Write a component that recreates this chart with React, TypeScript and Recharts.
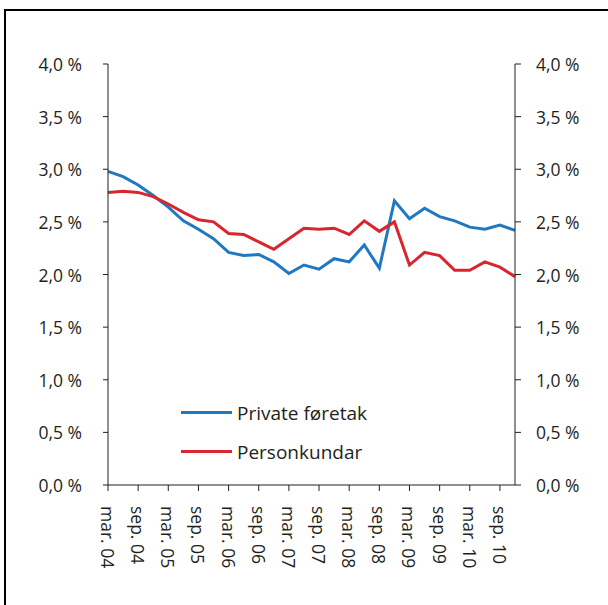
import { LineChart, Line, XAxis, YAxis } from 'recharts';

const quarters = [
  'mar. 04', 'jun. 04', 'sep. 04', 'des. 04',
  'mar. 05', 'jun. 05', 'sep. 05', 'des. 05',
  'mar. 06', 'jun. 06', 'sep. 06', 'des. 06',
  'mar. 07', 'jun. 07', 'sep. 07', 'des. 07',
  'mar. 08', 'jun. 08', 'sep. 08', 'des. 08',
  'mar. 09', 'jun. 09', 'sep. 09', 'des. 09',
  'mar. 10', 'jun. 10', 'sep. 10', 'des. 10',
];

const privateForetak = [
  2.98, 2.93, 2.85, 2.75, 2.64, 2.51, 2.43, 2.34, 2.21, 2.18, 2.19, 2.12, 2.01, 2.09,
  2.05, 2.15, 2.12, 2.28, 2.06, 2.7, 2.53, 2.63, 2.55, 2.51, 2.45, 2.43, 2.47, 2.42,
];

const personkundar = [
  2.78, 2.79, 2.78, 2.74, 2.67, 2.59, 2.52, 2.5, 2.39, 2.38, 2.31, 2.24, 2.34, 2.44,
  2.43, 2.44, 2.38, 2.51, 2.41, 2.5, 2.09, 2.21, 2.18, 2.04, 2.04, 2.12, 2.07, 1.98,
];

const yTicks = [0, 0.5, 1, 1.5, 2, 2.5, 3, 3.5, 4];

// both axes share 0-4 %, so each line can sit on its own axis
const series = [
  { key: 'priv', name: 'Private føretak', color: '#1f78c1', axis: 'left' },
  { key: 'pers', name: 'Personkundar', color: '#d9262e', axis: 'right' },
];

const INK = '#231f20';
const FONT = '"Open Sans", sans-serif';

const data = quarters.map((q, i) => ({
  q,
  priv: privateForetak[i],
  pers: personkundar[i],
}));

const fmt = (v: number) => v.toFixed(1).replace('.', ',') + ' %';

const XTick = ({ x, y, payload }: any) => (
  <text
    transform={`translate(${x},${y}) rotate(90)`}
    textAnchor="start"
    dominantBaseline="central"
    fontSize={17.5}
    fontFamily={FONT}
    fill={INK}
  >
    {payload.value}
  </text>
);

const YTick = ({ x, y, payload, anchor }: any) => (
  <text
    x={x}
    y={y}
    textAnchor={anchor}
    dominantBaseline="central"
    fontSize={17.5}
    fontFamily={FONT}
    fill={INK}
  >
    {fmt(payload.value)}
  </text>
);

export default function App() {
  return (
    <div style={{ position: 'absolute', left: 0, top: 0, width: 608, height: 605, overflow: 'hidden', background: '#fff' }}>
      <div
        style={{
          position: 'absolute',
          left: 4,
          top: 9,
          width: 620,
          height: 620,
          borderLeft: '2px solid #000',
          borderTop: '2px solid #000',
        }}
      />
      <div style={{ position: 'absolute', left: 0, top: 0 }}>
        <LineChart width={608} height={605} data={data} margin={{ top: 64, right: 0, bottom: 0, left: 0 }}>
          <XAxis
            dataKey="q"
            interval={1}
            height={120}
            tickSize={6}
            tickMargin={15}
            tick={<XTick />}
            axisLine={{ stroke: INK }}
            tickLine={{ stroke: INK }}
          />
          <YAxis
            yAxisId="left"
            domain={[0, 4]}
            ticks={yTicks}
            width={108}
            tickSize={5}
            tickMargin={21}
            tick={<YTick anchor="end" />}
            axisLine={{ stroke: INK }}
            tickLine={{ stroke: INK }}
          />
          <YAxis
            yAxisId="right"
            orientation="right"
            domain={[0, 4]}
            ticks={yTicks}
            width={93}
            tickSize={6}
            tickMargin={15}
            tick={<YTick anchor="start" />}
            axisLine={{ stroke: INK }}
            tickLine={{ stroke: INK }}
          />
          {series.map((s) => (
            <Line
              key={s.key}
              yAxisId={s.axis}
              dataKey={s.key}
              name={s.name}
              stroke={s.color}
              strokeWidth={3}
              dot={false}
              isAnimationActive={false}
            />
          ))}
        </LineChart>
      </div>
      <div style={{ position: 'absolute', left: 181, top: 393, fontFamily: FONT, fontSize: 19, color: INK }}>
        {series.map((s) => (
          <div key={s.key} style={{ display: 'flex', alignItems: 'center', height: 39 }}>
            <div style={{ width: 51, height: 3, background: s.color, marginRight: 5 }} />
            <span>{s.name}</span>
          </div>
        ))}
      </div>
    </div>
  );
}
